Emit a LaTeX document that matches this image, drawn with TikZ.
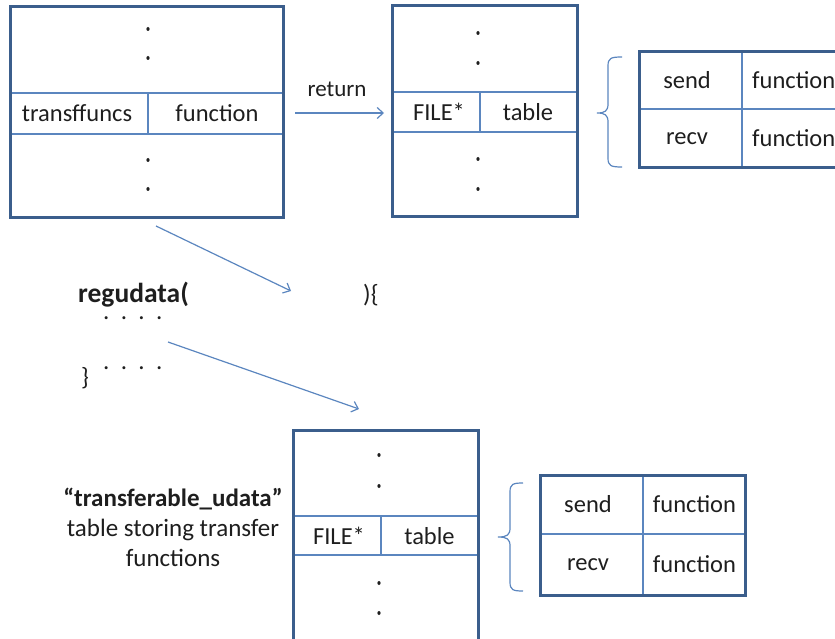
\documentclass[tikz,border=0pt]{standalone}
\usepackage{fontspec}
\setmainfont{Carlito}
\usetikzlibrary{arrows.meta,shapes.geometric}
\definecolor{frame}{HTML}{3B5E8C}
\definecolor{rule}{HTML}{5B86BF}
\definecolor{ink}{HTML}{1E1E1E}

\begin{document}
\begin{tikzpicture}[x=1pt,y=-1pt,
  tbox/.style={draw=frame, line width=3pt, inner sep=0pt},
  sep/.style={draw=rule, line width=1.2pt},
  txt/.style={font=\fontsize{24.5}{28}\selectfont, text=ink, inner sep=0pt},
  code/.style={font=\fontsize{25}{29}\selectfont, text=ink, inner sep=0pt, anchor=base west},
  vdot/.style={fill=ink, draw=none, ellipse, minimum width=3.2pt, minimum height=4pt, inner sep=0pt},
  link/.style={draw=rule, line width=1.2pt, -{Straight Barb[length=6pt,width=11pt,line width=1.2pt]}},
  brace/.style={draw=rule, line width=1.2pt}
]
\useasboundingbox (0,0) rectangle (835,639);
\clip (0,0) rectangle (835,639);

% ---------- table with transffuncs ----------
\draw[sep] (10,93) -- (283,93) (10,134) -- (283,134) (148,93) -- (148,134);
\node[tbox, minimum width=273pt, minimum height=211pt] (b1) at (146.5,112.5) {};
\node[txt] (b1k) at (77,113.5) {transffuncs};
\node[txt] (b1v) at (217,113.5) {function};
\foreach \y in {29,58,160,189} \node[vdot] at (148,\y) {};

% ---------- returned userdata ----------
\draw[sep] (392,92) -- (577,92) (392,132) -- (577,132) (480,92) -- (480,132);
\node[tbox, minimum width=185pt, minimum height=211pt] (b2) at (484.5,111.5) {};
\node[txt] (b2k) at (439,112) {FILE*};
\node[txt] (b2v) at (528,112) {table};
\foreach \y in {33,63,159,189} \node[vdot] at (478,\y) {};

% return arrow
\coordinate (r0) at (295,113);
\coordinate (r1) at (384,113);
\node[txt, font=\fontsize{23}{27}\selectfont] (ret) at (337,89) {return};
\draw[link] (r0) -- (r1);

% brace and send/recv table
\draw[brace] (622,57) .. controls (611,57) and (608,58) .. (608,66) -- (608,104)
  .. controls (608,111) and (605,113) .. (597,113)
  .. controls (605,113) and (608,115) .. (608,122) -- (608,158)
  .. controls (608,166) and (611,167) .. (622,167);
\draw[sep] (639,109) -- (860,109) (742,52) -- (742,168);
\node[tbox, minimum width=221pt, minimum height=116pt] (b3) at (749.5,110) {};
\node[txt] (b3s) at (687,80.5) {send};
\node[txt] (b3r) at (687,138.5) {recv};
\node[txt, anchor=west] (b3sf) at (752,80.5) {function};
\node[txt, anchor=west] (b3rf) at (752,138.5) {function};

% ---------- code fragment ----------
\node[code, font=\fontsize{27.5}{31}\selectfont, text depth=0pt] (fn) at (78,302) {\bfseries regudata(};
\node[code] (fnc) at (363,302) {)\{};
\node[code] (d1) at (103,319) {.\ \ .\ \ .\ \ .};
\node[code] (d2) at (103,369) {.\ \ .\ \ .\ \ .};
\node[code] (cl) at (81,385) {\}};

\coordinate (a0) at (156,226);
\coordinate (a1) at (291,291);
\draw[link] (a0) -- (a1);
\coordinate (c0) at (168,342);
\coordinate (c1) at (359,409);
\draw[link] (c0) -- (c1);

% ---------- registry entry ----------
\node[txt, align=center, font=\fontsize{25}{30}\selectfont] (lbl) at (173,527)
  {\textbf{“transferable\_udata”}\\table storing transfer\\functions};

\draw[sep] (293,516) -- (478,516) (293,555) -- (478,555) (381,516) -- (381,555);
\node[tbox, minimum width=185pt, minimum height=240pt] (b4) at (385.5,550) {};
\node[txt] (b4k) at (339,536) {FILE*};
\node[txt] (b4v) at (429.5,536) {table};
\foreach \y in {455,486,583,613} \node[vdot] at (379,\y) {};

\draw[brace] (523,483) .. controls (513,483) and (510,484) .. (510,492) -- (510,528)
  .. controls (510,535) and (507,537) .. (498,537)
  .. controls (507,537) and (510,539) .. (510,546) -- (510,582)
  .. controls (510,590) and (513,591) .. (523,591);
\draw[sep] (540,534) -- (745,534) (643,475) -- (643,595);
\node[tbox, minimum width=205pt, minimum height=120pt] (b5) at (642.5,535) {};
\node[txt] (b5s) at (588,504.5) {send};
\node[txt] (b5r) at (588,564.5) {recv};
\node[txt] (b5sf) at (694.5,504.5) {function};
\node[txt] (b5rf) at (694.5,564.5) {function};
\end{tikzpicture}
\end{document}
